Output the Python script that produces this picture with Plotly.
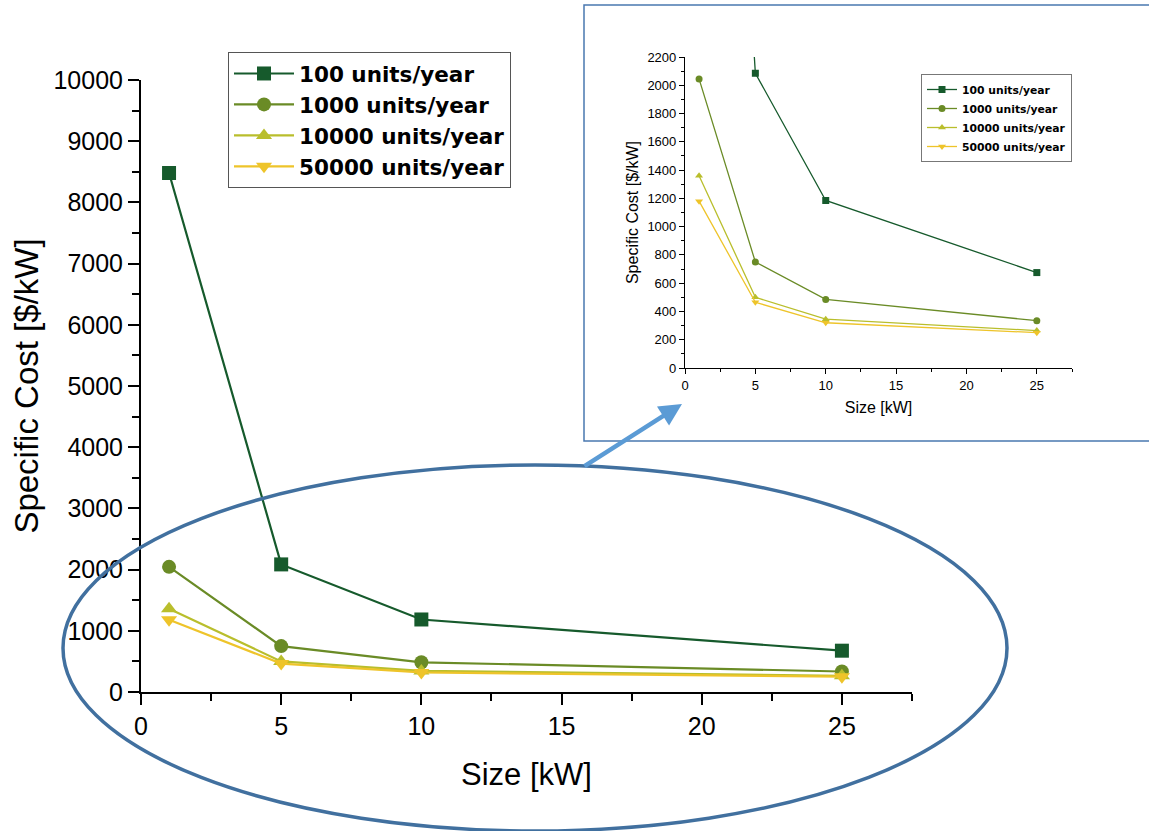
import plotly.graph_objects as go

sizes_kw = [1, 5, 10, 25]
cost_100 = [8480, 2085, 1185, 675]
cost_1000 = [2045, 750, 485, 335]
cost_10000 = [1360, 500, 345, 265]
cost_50000 = [1180, 465, 320, 250]
series_names = ["100 units/year", "1000 units/year", "10000 units/year", "50000 units/year"]
series_values = [cost_100, cost_1000, cost_10000, cost_50000]
colors = ["#165a2c", "#6a8b26", "#b9be2c", "#eec42a"]
symbols = ["square", "circle", "triangle-up", "triangle-down"]

W, H = 1149, 831
def px(x):
    return x / W
def py(y):
    return 1 - y / H

fig = go.Figure()
for name, vals, c, s in zip(series_names, series_values, colors, symbols):
    fig.add_trace(go.Scatter(x=sizes_kw, y=vals, name=name, mode="lines+markers",
                             line=dict(color=c, width=2.2),
                             marker=dict(symbol=s, size=14, color=c),
                             xaxis="x", yaxis="y", legend="legend"))
for name, vals, c, s in zip(series_names, series_values, colors, symbols):
    fig.add_trace(go.Scatter(x=sizes_kw, y=vals, name=name, mode="lines+markers",
                             line=dict(color=c, width=1.3),
                             marker=dict(symbol=s, size=7, color=c),
                             xaxis="x2", yaxis="y2", legend="legend2"))

font = "Liberation Sans, Arial, sans-serif"
legfont = "DejaVu Sans, Liberation Sans, sans-serif"
axis_common = dict(showline=True, linecolor="black", ticks="outside", tickcolor="black",
                   showgrid=False, zeroline=False, mirror=False, automargin=False,
                   tickformat="d")

fig.update_layout(
    width=W, height=H, margin=dict(l=0, r=0, t=0, b=0, autoexpand=False),
    paper_bgcolor="white", plot_bgcolor="rgba(0,0,0,0)",
    font=dict(family=font, color="black"),
    xaxis=dict(domain=[px(141), px(912)], range=[0, 27.5], tickvals=[0, 5, 10, 15, 20, 25],
               tickfont=dict(size=25), linewidth=2, tickwidth=2, ticklen=11,
               minor=dict(dtick=2.5, tick0=0, ticks="outside", ticklen=7, tickwidth=2, tickcolor="black"),
               title=dict(text="Size [kW]", font=dict(size=31), standoff=24),
               anchor="y", **axis_common),
    yaxis=dict(domain=[py(692), py(80)], range=[0, 10000], dtick=1000,
               tickfont=dict(size=25), linewidth=2, tickwidth=2, ticklen=11,
               minor=dict(dtick=500, ticks="outside", ticklen=7, tickwidth=2, tickcolor="black"),
               title=dict(text="Specific Cost [$/kW]", font=dict(size=33), standoff=5),
               anchor="x", **axis_common),
    xaxis2=dict(domain=[px(685), px(1072)], range=[0, 27.5], tickvals=[0, 5, 10, 15, 20, 25],
                tickfont=dict(size=13), linewidth=1.2, tickwidth=1.2, ticklen=5,
                minor=dict(dtick=2.5, tick0=0, ticks="outside", ticklen=3, tickwidth=1.2, tickcolor="black"),
                title=dict(text="Size [kW]", font=dict(size=16), standoff=10),
                anchor="y2", **axis_common),
    yaxis2=dict(domain=[py(368), py(57)], range=[0, 2200], dtick=200,
                tickfont=dict(size=13), linewidth=1.2, tickwidth=1.2, ticklen=5,
                minor=dict(dtick=100, ticks="outside", ticklen=3, tickwidth=1.2, tickcolor="black"),
                title=dict(text="Specific Cost [$/kW]", font=dict(size=16), standoff=4),
                anchor="x2", **axis_common),
    legend=dict(x=px(228), y=py(52), xanchor="left", yanchor="top",
                bordercolor="#555555", borderwidth=1, bgcolor="white",
                font=dict(size=21.5, family=legfont, weight="bold"), itemwidth=60,
                tracegroupgap=0),
    legend2=dict(x=px(921), y=py(74), xanchor="left", yanchor="top",
                 bordercolor="#777777", borderwidth=1, bgcolor="white",
                 font=dict(size=10.8, family=legfont, weight="bold"), itemwidth=30,
                 tracegroupgap=0),
    showlegend=True,
)

# inset frame
fig.add_shape(type="rect", xref="paper", yref="paper",
              x0=px(584), x1=1.02, y0=py(441), y1=py(5),
              line=dict(color="#4a78b0", width=1.5), fillcolor="rgba(0,0,0,0)", layer="above")
# ellipse
fig.add_shape(type="circle", xref="paper", yref="paper",
              x0=px(63), x1=px(1007), y0=py(831), y1=py(465),
              line=dict(color="#41709f", width=3.5), layer="above")
# arrow
fig.add_annotation(xref="paper", yref="paper", x=px(682), y=py(404),
                   ax=-99, ay=63, axref="pixel", ayref="pixel", text="",
                   showarrow=True, arrowhead=2, arrowsize=1, arrowwidth=4.5,
                   arrowcolor="#5b9bd5")

fig.write_html("out.html", config={"displayModeBar": False},
               post_script="document.body.style.margin='0';document.body.style.overflow='hidden';")
